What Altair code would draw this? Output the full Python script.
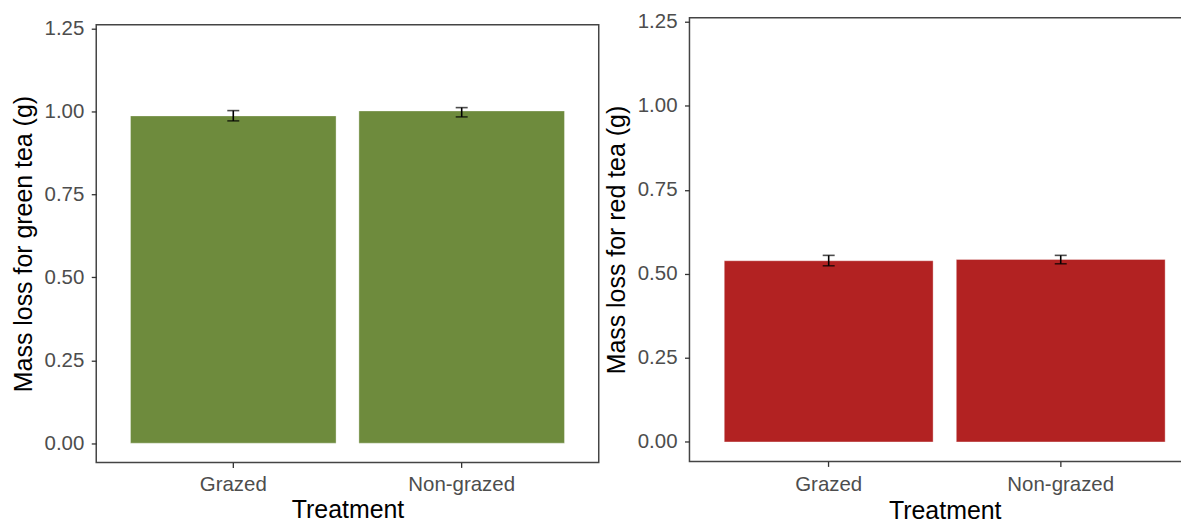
import altair as alt
import pandas as pd

treatments = ["Grazed", "Non-grazed"]
green_mean = [0.987, 1.002]
green_lo = [0.972, 0.984]
green_hi = [1.003, 1.012]
red_mean = [0.539, 0.543]
red_lo = [0.524, 0.530]
red_hi = [0.555, 0.555]
y_ticks = [0.0, 0.25, 0.5, 0.75, 1.0, 1.25]

FONT = "Liberation Sans"


def panel(means, lo, hi, color, ytitle, w, h, lp, tp):
    df = pd.DataFrame({"Treatment": treatments, "mean": means, "lo": lo, "hi": hi})
    x = alt.X("Treatment:N", title="Treatment", sort=treatments,
              scale=alt.Scale(paddingInner=0.1, paddingOuter=0.15),
              axis=alt.Axis(labelAngle=0, labelPadding=lp, titlePadding=tp))
    yscale = alt.Scale(domain=[-0.058, 1.262], nice=False, zero=False)
    yaxis = alt.Axis(values=y_ticks, format=".2f", title=ytitle)
    base = alt.Chart(df)
    bars = base.mark_bar(color=color, stroke="#ffffff", strokeOpacity=0.35, strokeWidth=1).encode(
        x=x,
        y=alt.Y("mean:Q", scale=yscale, axis=yaxis),
        y2=alt.datum(0),
    )
    rule = base.mark_rule(color="black", strokeWidth=1.6).encode(
        x=x, y=alt.Y("lo:Q", scale=yscale), y2="hi:Q"
    )
    cap_lo = base.mark_tick(color="black", size=12, thickness=1.6).encode(
        x=x, y=alt.Y("lo:Q", scale=yscale)
    )
    cap_hi = base.mark_tick(color="black", size=12, thickness=1.6).encode(
        x=x, y=alt.Y("hi:Q", scale=yscale)
    )
    return alt.layer(bars, rule, cap_lo, cap_hi).properties(width=w, height=h)


spacer = alt.Chart(pd.DataFrame({"a": [0]})).mark_rule(strokeOpacity=0).encode(
    x=alt.value(0), y=alt.value(0), y2=alt.value(1)
).properties(width=504, height=1, view=alt.ViewBackground(stroke="transparent"))

left = panel(green_mean, green_lo, green_hi, "#6E8B3D",
             "Mass loss for green tea (g)", 504, 439, lp=7, tp=3)
right = panel(red_mean, red_lo, red_hi, "#B22222",
              "Mass loss for red tea (g)", 512, 445, lp=8.5, tp=3.5)

left_col = alt.vconcat(spacer, left, spacing=-2)

chart = alt.hconcat(left_col, right, spacing=3).properties(
    padding={"left": 1.5, "top": 2, "right": -20, "bottom": -4}
).configure_view(
    stroke="#444444", strokeWidth=1.5
).configure_axis(
    domain=False,
    grid=False,
    ticks=True,
    tickColor="#333333",
    tickSize=5,
    tickWidth=1.3,
    labelFont=FONT,
    labelFontSize=20.5,
    labelColor="#4d4d4d",
    titleFont=FONT,
    titleFontSize=25,
    titleFontWeight="normal",
    titleColor="#000000",
).configure_axisY(
    labelPadding=7.5,
    titlePadding=8,
)

chart.save("out.html", embed_options={"renderer": "svg", "actions": False})
